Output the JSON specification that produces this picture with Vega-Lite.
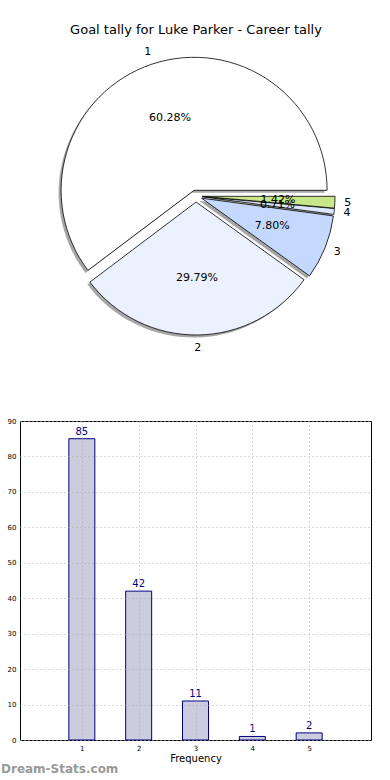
{
  "$schema": "https://vega.github.io/schema/vega-lite/v6.json",
  "padding": {"top": 24, "left": 0, "right": 0, "bottom": 0},
  "background": "white",
  "spacing": 63,
  "config": {
    "font": "DejaVu Sans",
    "axis": {"labelFont": "DejaVu Sans", "titleFont": "DejaVu Sans", "labelColor": "black", "titleColor": "black"},
    "title": {"font": "DejaVu Sans"}
  },
  "vconcat": [
    {
      "title": {"text": "Goal tally for Luke Parker - Career tally", "fontSize": 13, "fontWeight": "normal", "color": "black", "offset": 8, "anchor": "middle"},
      "width": 352,
      "height": 302,
      "view": {"stroke": null},
      "data": {"values": [
        {"k": 1, "n": 85, "p": "60.28%"},
        {"k": 2, "n": 42, "p": "29.79%"},
        {"k": 3, "n": 11, "p": "7.80%"},
        {"k": 4, "n": 1, "p": "0.71%"},
        {"k": 5, "n": 2, "p": "1.42%"}
      ]},
      "transform": [{"stack": "n", "groupby": [], "sort": [{"field": "k", "order": "descending"}], "as": ["t0", "t1"]}],
      "encoding": {
        "theta": {"field": "t1", "type": "quantitative", "stack": null, "scale": {"domain": [0, 141], "range": [1.5708, 7.854]}},
        "theta2": {"field": "t0"}
      },
      "layer": [
        {"transform": [{"filter": "datum.k == 1"}], "mark": {"type": "arc", "outerRadius": 133, "fill": "#4d4d4d", "opacity": 0.5, "xOffset": -4.4, "yOffset": -3.2}},
        {"transform": [{"filter": "datum.k == 2"}], "mark": {"type": "arc", "outerRadius": 133, "fill": "#4d4d4d", "opacity": 0.5, "xOffset": -2.4, "yOffset": 8.5}},
        {"transform": [{"filter": "datum.k == 3"}], "mark": {"type": "arc", "outerRadius": 133, "fill": "#4d4d4d", "opacity": 0.5, "xOffset": 3.1, "yOffset": 4.7}},
        {"transform": [{"filter": "datum.k == 4"}], "mark": {"type": "arc", "outerRadius": 133, "fill": "#4d4d4d", "opacity": 0.5, "xOffset": 3.5, "yOffset": 3.2}},
        {"transform": [{"filter": "datum.k == 5"}], "mark": {"type": "arc", "outerRadius": 133, "fill": "#4d4d4d", "opacity": 0.5, "xOffset": 3.5, "yOffset": 2.8}},
        {"transform": [{"filter": "datum.k == 1"}], "mark": {"type": "arc", "outerRadius": 133, "stroke": "black", "strokeWidth": 0.8, "xOffset": -1.9, "yOffset": -5.7},
          "encoding": {"color": {"field": "k", "type": "nominal", "legend": null, "scale": {"domain": [1, 2, 3, 4, 5], "range": ["#ffffff", "#ebf1ff", "#c5d9ff", "#dce8ff", "#c8e68a"]}}}},
        {"transform": [{"filter": "datum.k == 2"}], "mark": {"type": "arc", "outerRadius": 133, "stroke": "black", "strokeWidth": 0.8, "xOffset": 0.1, "yOffset": 6},
          "encoding": {"color": {"field": "k", "type": "nominal", "legend": null}}},
        {"transform": [{"filter": "datum.k == 3"}], "mark": {"type": "arc", "outerRadius": 133, "stroke": "black", "strokeWidth": 0.8, "xOffset": 5.6, "yOffset": 2.2},
          "encoding": {"color": {"field": "k", "type": "nominal", "legend": null}}},
        {"transform": [{"filter": "datum.k == 4"}], "mark": {"type": "arc", "outerRadius": 133, "stroke": "black", "strokeWidth": 0.8, "xOffset": 6, "yOffset": 0.7},
          "encoding": {"color": {"field": "k", "type": "nominal", "legend": null}}},
        {"transform": [{"filter": "datum.k == 5"}], "mark": {"type": "arc", "outerRadius": 133, "stroke": "black", "strokeWidth": 0.8, "xOffset": 6, "yOffset": 0.3},
          "encoding": {"color": {"field": "k", "type": "nominal", "legend": null}}},
        {"mark": {"type": "text", "radius": 82, "fontSize": 11, "color": "black"},
          "encoding": {"theta": {"field": "n", "type": "quantitative", "stack": true}, "theta2": null, "order": {"field": "k", "sort": "descending"}, "text": {"field": "p"}}},
        {"mark": {"type": "text", "radius": 152, "fontSize": 11, "color": "black"},
          "encoding": {"theta": {"field": "n", "type": "quantitative", "stack": true}, "theta2": null, "order": {"field": "k", "sort": "descending"}, "text": {"field": "k"}}}
      ]
    },
    {
      "width": 351,
      "height": 319,
      "view": {"stroke": "black", "strokeWidth": 1},
      "title": {"text": "Dream-Stats.com", "orient": "bottom", "anchor": "start", "frame": "bounds", "fontSize": 12, "fontWeight": "bold", "color": "#999999", "offset": 1},
      "data": {"values": [
        {"k": 1, "n": 85},
        {"k": 2, "n": 42},
        {"k": 3, "n": 11},
        {"k": 4, "n": 1},
        {"k": 5, "n": 2}
      ]},
      "encoding": {
        "x": {"field": "k", "type": "quantitative", "scale": {"domain": [0, 6], "nice": false},
          "axis": {"values": [1, 2, 3, 4, 5], "ticks": false, "domain": false, "labelFontSize": 7, "labelPadding": 4, "title": "Frequency", "titleFontSize": 10, "titleFontWeight": "normal", "titlePadding": 2, "grid": true, "gridDash": [1, 3], "gridColor": "#b0b0b0", "zindex": 1}},
        "y": {"field": "n", "type": "quantitative", "scale": {"domain": [0, 90], "nice": false},
          "axis": {"values": [0, 10, 20, 30, 40, 50, 60, 70, 80, 90], "ticks": false, "domain": false, "labelFontSize": 7, "labelPadding": 4, "title": null, "grid": true, "gridDash": [1, 3], "gridColor": "#b0b0b0", "zindex": 1, "minExtent": 19, "maxExtent": 19}}
      },
      "layer": [
        {"mark": {"type": "bar", "size": 26, "fill": "#ccccdf", "stroke": "#000080", "strokeWidth": 1}},
        {"mark": {"type": "text", "dy": -7, "color": "#000080", "fontSize": 10}, "encoding": {"text": {"field": "n"}}}
      ]
    }
  ]
}
